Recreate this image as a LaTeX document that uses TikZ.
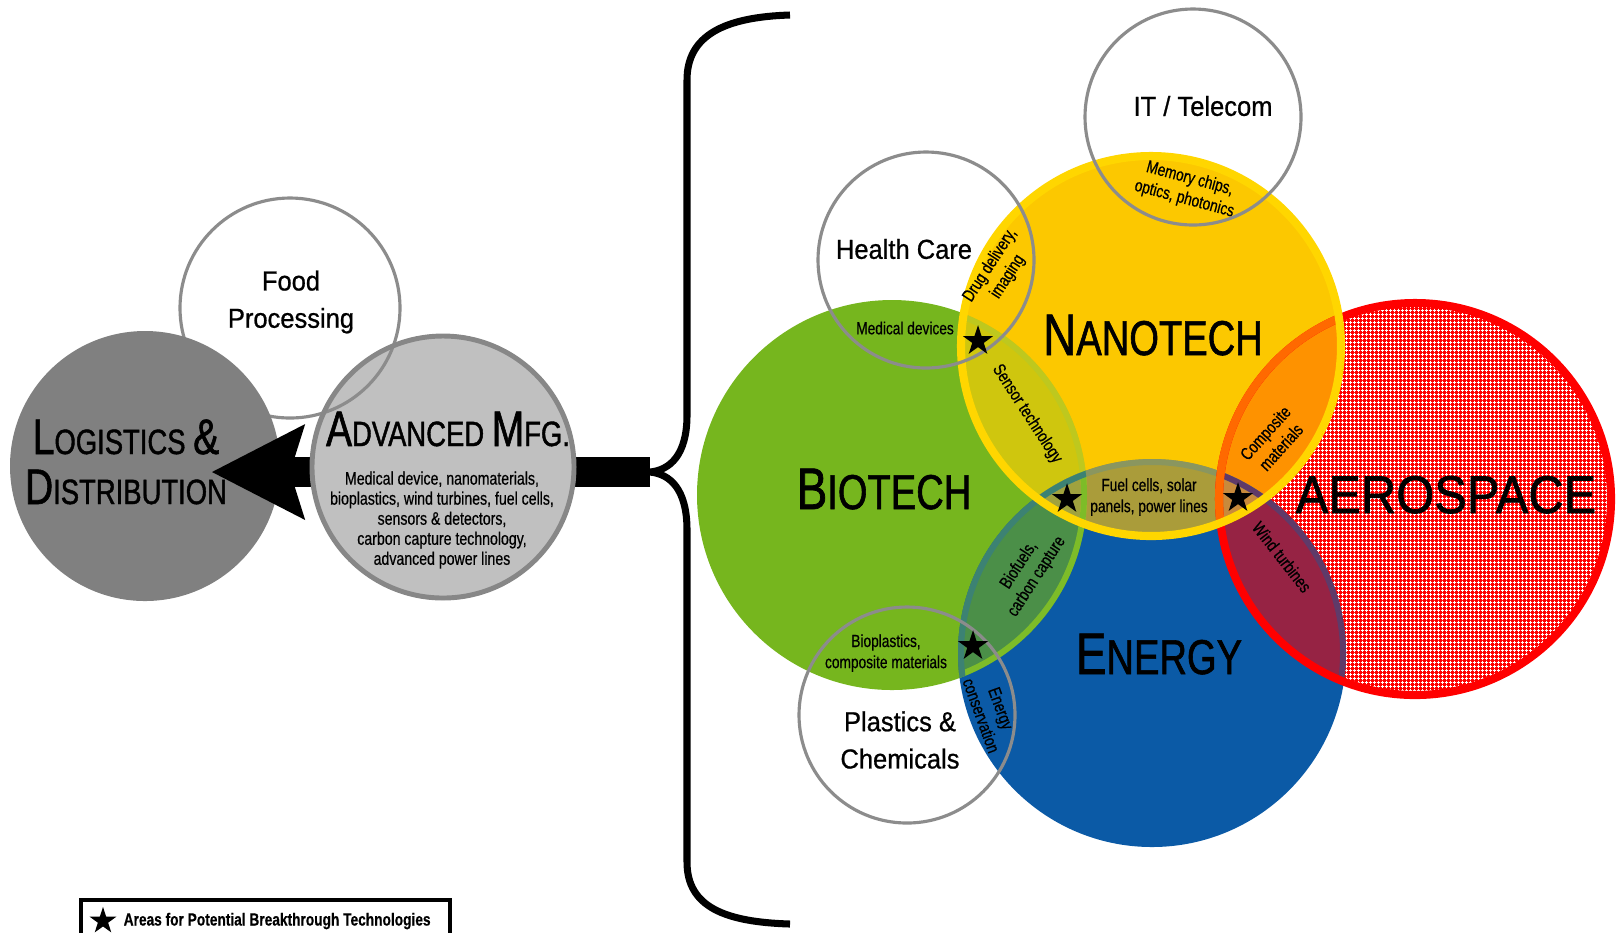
\documentclass[tikz,border=0pt]{standalone}
\usepackage{fontspec}
\setmainfont{Liberation Sans}
\newfontfamily\narrowfont{Liberation Sans}[FakeStretch=0.78, FakeBold=0.5]
\newfontfamily\titlefont{Liberation Sans}[FakeStretch=0.78, FakeBold=1.2]
\newfontfamily\aerofont{Liberation Sans}[FakeStretch=0.92, FakeBold=1.2]
\newfontfamily\labelfont{Liberation Sans}[FakeStretch=0.93, FakeBold=0.8]
\usetikzlibrary{shapes.geometric,patterns.meta,arrows.meta}

\definecolor{bioC}{RGB}{118,182,30}
\definecolor{nanoC}{RGB}{252,200,0}
\definecolor{nanoEdge}{RGB}{255,214,0}
\definecolor{energyC}{RGB}{11,90,166}
\definecolor{aeroC}{RGB}{255,0,0}
\definecolor{lensBN}{RGB}{207,198,14}
\definecolor{lensNE}{RGB}{170,156,58}
\definecolor{lensBE}{RGB}{75,143,72}
\definecolor{lensBNE}{RGB}{160,162,62}
\definecolor{lensNA}{RGB}{254,146,0}
\definecolor{lensEA}{RGB}{150,35,68}
\definecolor{lensNEA}{RGB}{200,138,60}
\definecolor{edgeBN}{RGB}{190,200,30}
\definecolor{edgeNE}{RGB}{138,150,95}
\definecolor{edgeBE}{RGB}{60,130,115}
\definecolor{edgeEB}{RGB}{125,188,40}
\definecolor{edgeNA}{RGB}{255,105,0}
\definecolor{edgeEA}{RGB}{95,58,105}
\definecolor{ringC}{RGB}{140,140,140}
\definecolor{logiC}{RGB}{128,128,128}
\definecolor{mfgC}{RGB}{192,192,192}
\definecolor{mfgEdge}{RGB}{135,135,135}

\newcommand{\bigsc}[2]{{\fontsize{16.7}{18}\selectfont #1}{\fontsize{13.9}{15}\selectfont #2}}
\newcommand{\midsc}[2]{{\fontsize{14.2}{15}\selectfont #1}{\fontsize{10}{11}\selectfont #2}}

\tikzdeclarepattern{
  name=aerogrid,
  bottom left={(0pt,0pt)},
  top right={(1pt,1pt)},
  tile size={(1pt,1pt)},
  code={
    \draw[line width=0.22pt] (0pt,0.5pt) -- (1pt,0.5pt);
    \draw[line width=0.22pt] (0.5pt,0pt) -- (0.5pt,1pt);
  }
}

\tikzset{
  ring/.style={draw=ringC, line width=0.9pt},
  sector/.style={font=\titlefont, anchor=base, inner sep=0pt},
  lens/.style={font=\narrowfont\fontsize{5}{6}\selectfont, align=center, inner sep=0pt},
  topic/.style={font=\labelfont\fontsize{7.8}{10.6}\selectfont, align=center, inner sep=0pt},
  keystar/.style={star, star points=5, star point ratio=2.6, fill=black, inner sep=0pt, minimum size=9pt},
}

\begin{document}
\begin{tikzpicture}[x=0.01cm, y=-0.01cm]
\useasboundingbox (0,0) rectangle (1619,932);

\coordinate (logi) at (145,466);
\coordinate (mfg) at (443,467);
\coordinate (food) at (290,308);
\coordinate (bio) at (892,495);
\coordinate (nano) at (1151,346);
\coordinate (energy) at (1152,653);
\coordinate (aero) at (1415,499);
\coordinate (it) at (1193,117);
\coordinate (health) at (926,260);
\coordinate (plastics) at (907,715);
\coordinate (bracetip) at (650,472);
\coordinate (arrowtip) at (212,472);

% left group
\draw[ring] (food) circle (110);
\fill[logiC] (logi) circle (135);
\draw[line width=8.5pt, -{Stealth[length=26.5pt, width=27.3pt, inset=4.3pt, line width=0pt]}] (bracetip) -- (arrowtip);
\fill[mfgC] (mfg) circle (133);
\begin{scope}
  \clip (mfg) circle (133);
  \draw[ring] (food) circle (110);
\end{scope}
\draw[mfgEdge, line width=1.4pt] (mfg) circle (131);

\draw[line width=2pt] (790,15) .. controls (725,17) and (687,35) .. (687,80)
  -- (687,415) .. controls (687,455) and (670,470) .. (bracetip)
  .. controls (670,474) and (687,489) .. (687,530)
  -- (687,862) .. controls (687,907) and (725,922) .. (790,924);

% right group
\fill[bioC] (bio) circle (195);
\fill[energyC] (energy) circle (194);
\fill[aeroC] (aero) circle (199);
\fill[pattern=aerogrid, pattern color=white] (aero) circle (199);
\fill[nanoC] (nano) circle (193);
\begin{scope}
  \clip (energy) circle (194);
  \fill[lensEA] (aero) circle (199);
\end{scope}
\begin{scope}
  \clip (bio) circle (195);
  \fill[lensBN] (nano) circle (193);
  \fill[lensBE] (energy) circle (194);
\end{scope}
\begin{scope}
  \clip (nano) circle (193);
  \fill[lensNE] (energy) circle (194);
  \fill[lensNA] (aero) circle (199);
\end{scope}
\begin{scope}
  \clip (nano) circle (193);
  \clip (energy) circle (194);
  \fill[lensBNE] (bio) circle (195);
  \fill[lensNEA] (aero) circle (199);
\end{scope}

\begin{scope}
  \clip (nano) circle (193);
  \draw[edgeBN, line width=1.7pt] (bio) circle (192);
  \draw[edgeNE, line width=1.7pt] (energy) circle (191);
\end{scope}
\begin{scope}
  \clip (energy) circle (194);
  \draw[edgeEB, line width=1.7pt] (bio) circle (192);
\end{scope}
\begin{scope}
  \clip (bio) circle (195);
  \draw[edgeBE, line width=1.7pt] (energy) circle (191);
\end{scope}
\begin{scope}
  \clip (aero) circle (199);
  \draw[edgeEA, line width=1.7pt] (energy) circle (191);
\end{scope}
\draw[aeroC, line width=2.3pt] (aero) circle (196);
\begin{scope}
  \clip (nano) circle (193);
  \draw[edgeNA, line width=2.3pt] (aero) circle (196);
\end{scope}
\draw[nanoEdge, line width=2.3pt] (nano) circle (190);

\draw[ring] (it) circle (108);
\draw[ring] (health) circle (108);
\draw[ring] (plastics) circle (108);

% labels
\node[topic] (foodtext) at (291,302) {Food\\Processing};
\node[sector] (logistics) at (126,454) {\midsc{L}{OGISTICS} \midsc{\&}{}};
\node[sector] (distribution) at (126,504) {\midsc{D}{ISTRIBUTION}};
\node[sector] (advmfg) at (448,446) {\midsc{A}{DVANCED} \midsc{M}{FG.}};
\node[font=\narrowfont\fontsize{5.15}{5.7}\selectfont, align=center, inner sep=0pt] (mfglist) at (442,520)
  {Medical device, nanomaterials,\\bioplastics, wind turbines, fuel cells,\\sensors \& detectors,\\carbon capture technology,\\advanced power lines};

\node[topic] (ittext) at (1203,106) {IT / Telecom};
\node[topic] (healthtext) at (904,249) {Health Care};
\node[topic] (plasticstext) at (900,740) {Plastics \&\\Chemicals};

\node[sector] (nanotech) at (1153,355) {\bigsc{N}{ANOTECH}};
\node[sector] (biotech) at (884,509) {\bigsc{B}{IOTECH}};
\node[sector] (energytext) at (1159,674) {\bigsc{E}{NERGY}};
\node[font=\aerofont\fontsize{15.1}{16}\selectfont, anchor=base, inner sep=0pt] (aerospace) at (1446,513) {AEROSPACE};

\node[lens, rotate=-15] (memory) at (1187,189) {Memory chips,\\optics, photonics};
\node[lens, rotate=57] (drug) at (999,271) {Drug delivery,\\imaging};
\node[lens] (medical) at (905,328) {Medical devices};
\node[lens, rotate=-57] (sensor) at (1027,414) {Sensor technology};
\node[lens] (fuel) at (1149,497) {Fuel cells, solar\\panels, power lines};
\node[lens, rotate=48] (composite) at (1273,440) {Composite\\materials};
\node[lens, rotate=-52] (wind) at (1282,557) {Wind turbines};
\node[lens, rotate=57] (biofuels) at (1028,571) {Biofuels,\\carbon capture};
\node[lens] (bioplastics) at (886,653) {Bioplastics,\\composite materials};
\node[lens, rotate=-70] (conservation) at (991,712) {Energy\\conservation};

\node[keystar] (star1) at (978,341) {};
\node[keystar] (star2) at (1067,499) {};
\node[keystar] (star3) at (1238,498) {};
\node[keystar] (star4) at (973,646) {};

% legend
\draw[line width=0.9pt] (81,900) rectangle (450,960);
\node[keystar, minimum size=8pt] (legendstar) at (103,921) {};
\node[font=\narrowfont\bfseries\fontsize{5}{6}\selectfont, anchor=west, inner sep=0pt] (legendtext) at (123,921) {Areas for Potential Breakthrough Technologies};
\end{tikzpicture}
\end{document}
